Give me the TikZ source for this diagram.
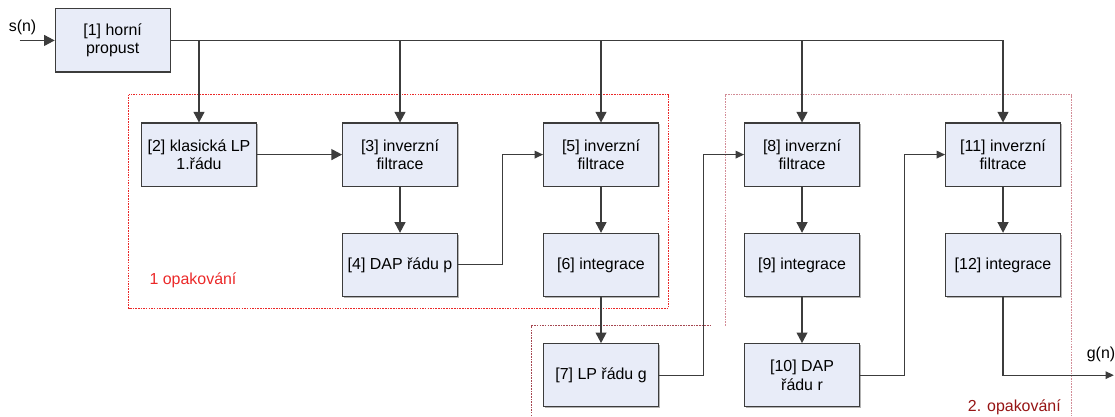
\documentclass[tikz,border=0pt]{standalone}
\usepackage{fontspec}
\setmainfont{Liberation Sans}
\usepackage{tikz}
\usetikzlibrary{arrows.meta, positioning, calc, backgrounds, shadows}
\definecolor{boxfill}{RGB}{232,236,248}
\definecolor{lineg}{RGB}{60,60,60}
\definecolor{repred}{RGB}{235,40,40}
\definecolor{reppink}{RGB}{210,140,150}
\definecolor{repbrown}{RGB}{165,70,80}
\definecolor{repdark}{RGB}{150,20,20}
\tikzset{
    block/.style={rectangle, draw=lineg, line width=0.8pt, fill=boxfill, minimum width=30.4mm, minimum height=16.7mm, inner sep=1mm, align=center, font=\fontsize{12}{14}\selectfont, drop shadow={shadow xshift=0.35mm, shadow yshift=-0.35mm, fill=black!50, opacity=0.6}},
    arrow/.style={-{Triangle[length=2.8mm, width=2.9mm]}, line width=0.85pt, lineg},
    smallarrow/.style={-{Triangle[length=2.2mm, width=2mm]}, line width=0.85pt, lineg},
    wire/.style={line width=0.85pt, lineg},
}

\begin{document}
\begin{tikzpicture}[
    node distance=12.2mm and 22.5mm,
    frame/.style={line width=0.5pt, dash pattern=on 1.2pt off 0.8pt},
    lbl/.style={font=\fontsize{12}{14}\selectfont, inner sep=0pt},
]

\coordinate (nw) at (0,0);
\coordinate (se) at (295.0mm,-110.1mm);
\useasboundingbox (nw) rectangle (se);

\node[block] (b1) at (29.8mm,-10.7mm) {[1] horní\\propust};
\node[block] (b2) at (52.65mm,-40.9mm) {[2] klasická LP\\1.řádu};
\node[block, right=of b2] (b3) {[3] inverzní\\filtrace};
\node[block, below=of b3] (b4) {[4] DAP řádu p};
\node[block, right=of b3] (b5) {[5] inverzní\\filtrace};
\node[block, below=of b5] (b6) {[6] integrace};
\node[block, below=of b6] (b7) {[7] LP řádu g};
\node[block, right=of b5] (b8) {[8] inverzní\\filtrace};
\node[block, below=of b8] (b9) {[9] integrace};
\node[block, below=of b9] (b10) {[10] DAP\\řádu r};
\node[block, right=of b8] (b11) {[11] inverzní\\filtrace};
\node[block, below=of b11] (b12) {[12] integrace};

\begin{scope}[on background layer]
\draw[frame, repred] ($(b2.north west)+(-3.3mm,7.4mm)$) rectangle ($(b6.south east)+(2.5mm,-3.0mm)$);
\draw[frame, repbrown] ($(b7.west |- se)+(-3.0mm,0)$) -- ($(b7.north west)+(-3.0mm,4.6mm)$) -- ($(b7.north east)+(13.9mm,4.6mm)$);
\draw[frame, reppink] ($(b7.north -| b8.west)+(-4.9mm,4.6mm)$) -- ($(b8.north west)+(-4.9mm,7.4mm)$) -- ($(b11.north east)+(2.8mm,7.4mm)$) -- ($(b11.east |- se)+(2.8mm,0)$);
\end{scope}

\node[lbl, text=repred, anchor=west] (rep1) at ($(b4.west -| b2.west)+(2.2mm,-4.2mm)$) {1 opakování};
\node[lbl, text=repdark, anchor=east] (rep2) at ($(b10.center -| b11.east)+(0,-8.6mm)$) {2. opakování};

\coordinate (sin) at ($(b1.west)+(-9.3mm,0)$);
\node[lbl] (sn) at ($(sin)+(0.8mm,3.4mm)$) {s(n)};
\draw[arrow] (sin) -- (b1.west);

\draw[wire] (b1.east) -- (b1.east -| b11.north);
\draw[arrow] (b1.east -| b2.north) -- (b2.north);
\draw[arrow] (b1.east -| b3.north) -- (b3.north);
\draw[arrow] (b1.east -| b5.north) -- (b5.north);
\draw[arrow] (b1.east -| b8.north) -- (b8.north);
\draw[arrow] (b1.east -| b11.north) -- (b11.north);

\draw[arrow] (b2.east) -- (b3.west);
\draw[arrow] (b3.south) -- (b4.north);
\draw[smallarrow] (b4.east) -- ++(11.8mm,0) |- (b5.west);
\draw[arrow] (b5.south) -- (b6.north);
\draw[arrow] (b6.south) -- (b7.north);
\draw[smallarrow] (b7.east) -- ++(11.8mm,0) |- (b8.west);
\draw[arrow] (b8.south) -- (b9.north);
\draw[arrow] (b9.south) -- (b10.north);
\draw[smallarrow] (b10.east) -- ++(11.8mm,0) |- (b11.west);
\draw[arrow] (b11.south) -- (b12.north);

\coordinate (gout) at ($(b10.east -| se)+(-0.3mm,0)$);
\draw[smallarrow] (b12.south) |- (gout);
\node[lbl] (gn) at ($(gout)+(-3.4mm,5.6mm)$) {g(n)};

\end{tikzpicture}
\end{document}
